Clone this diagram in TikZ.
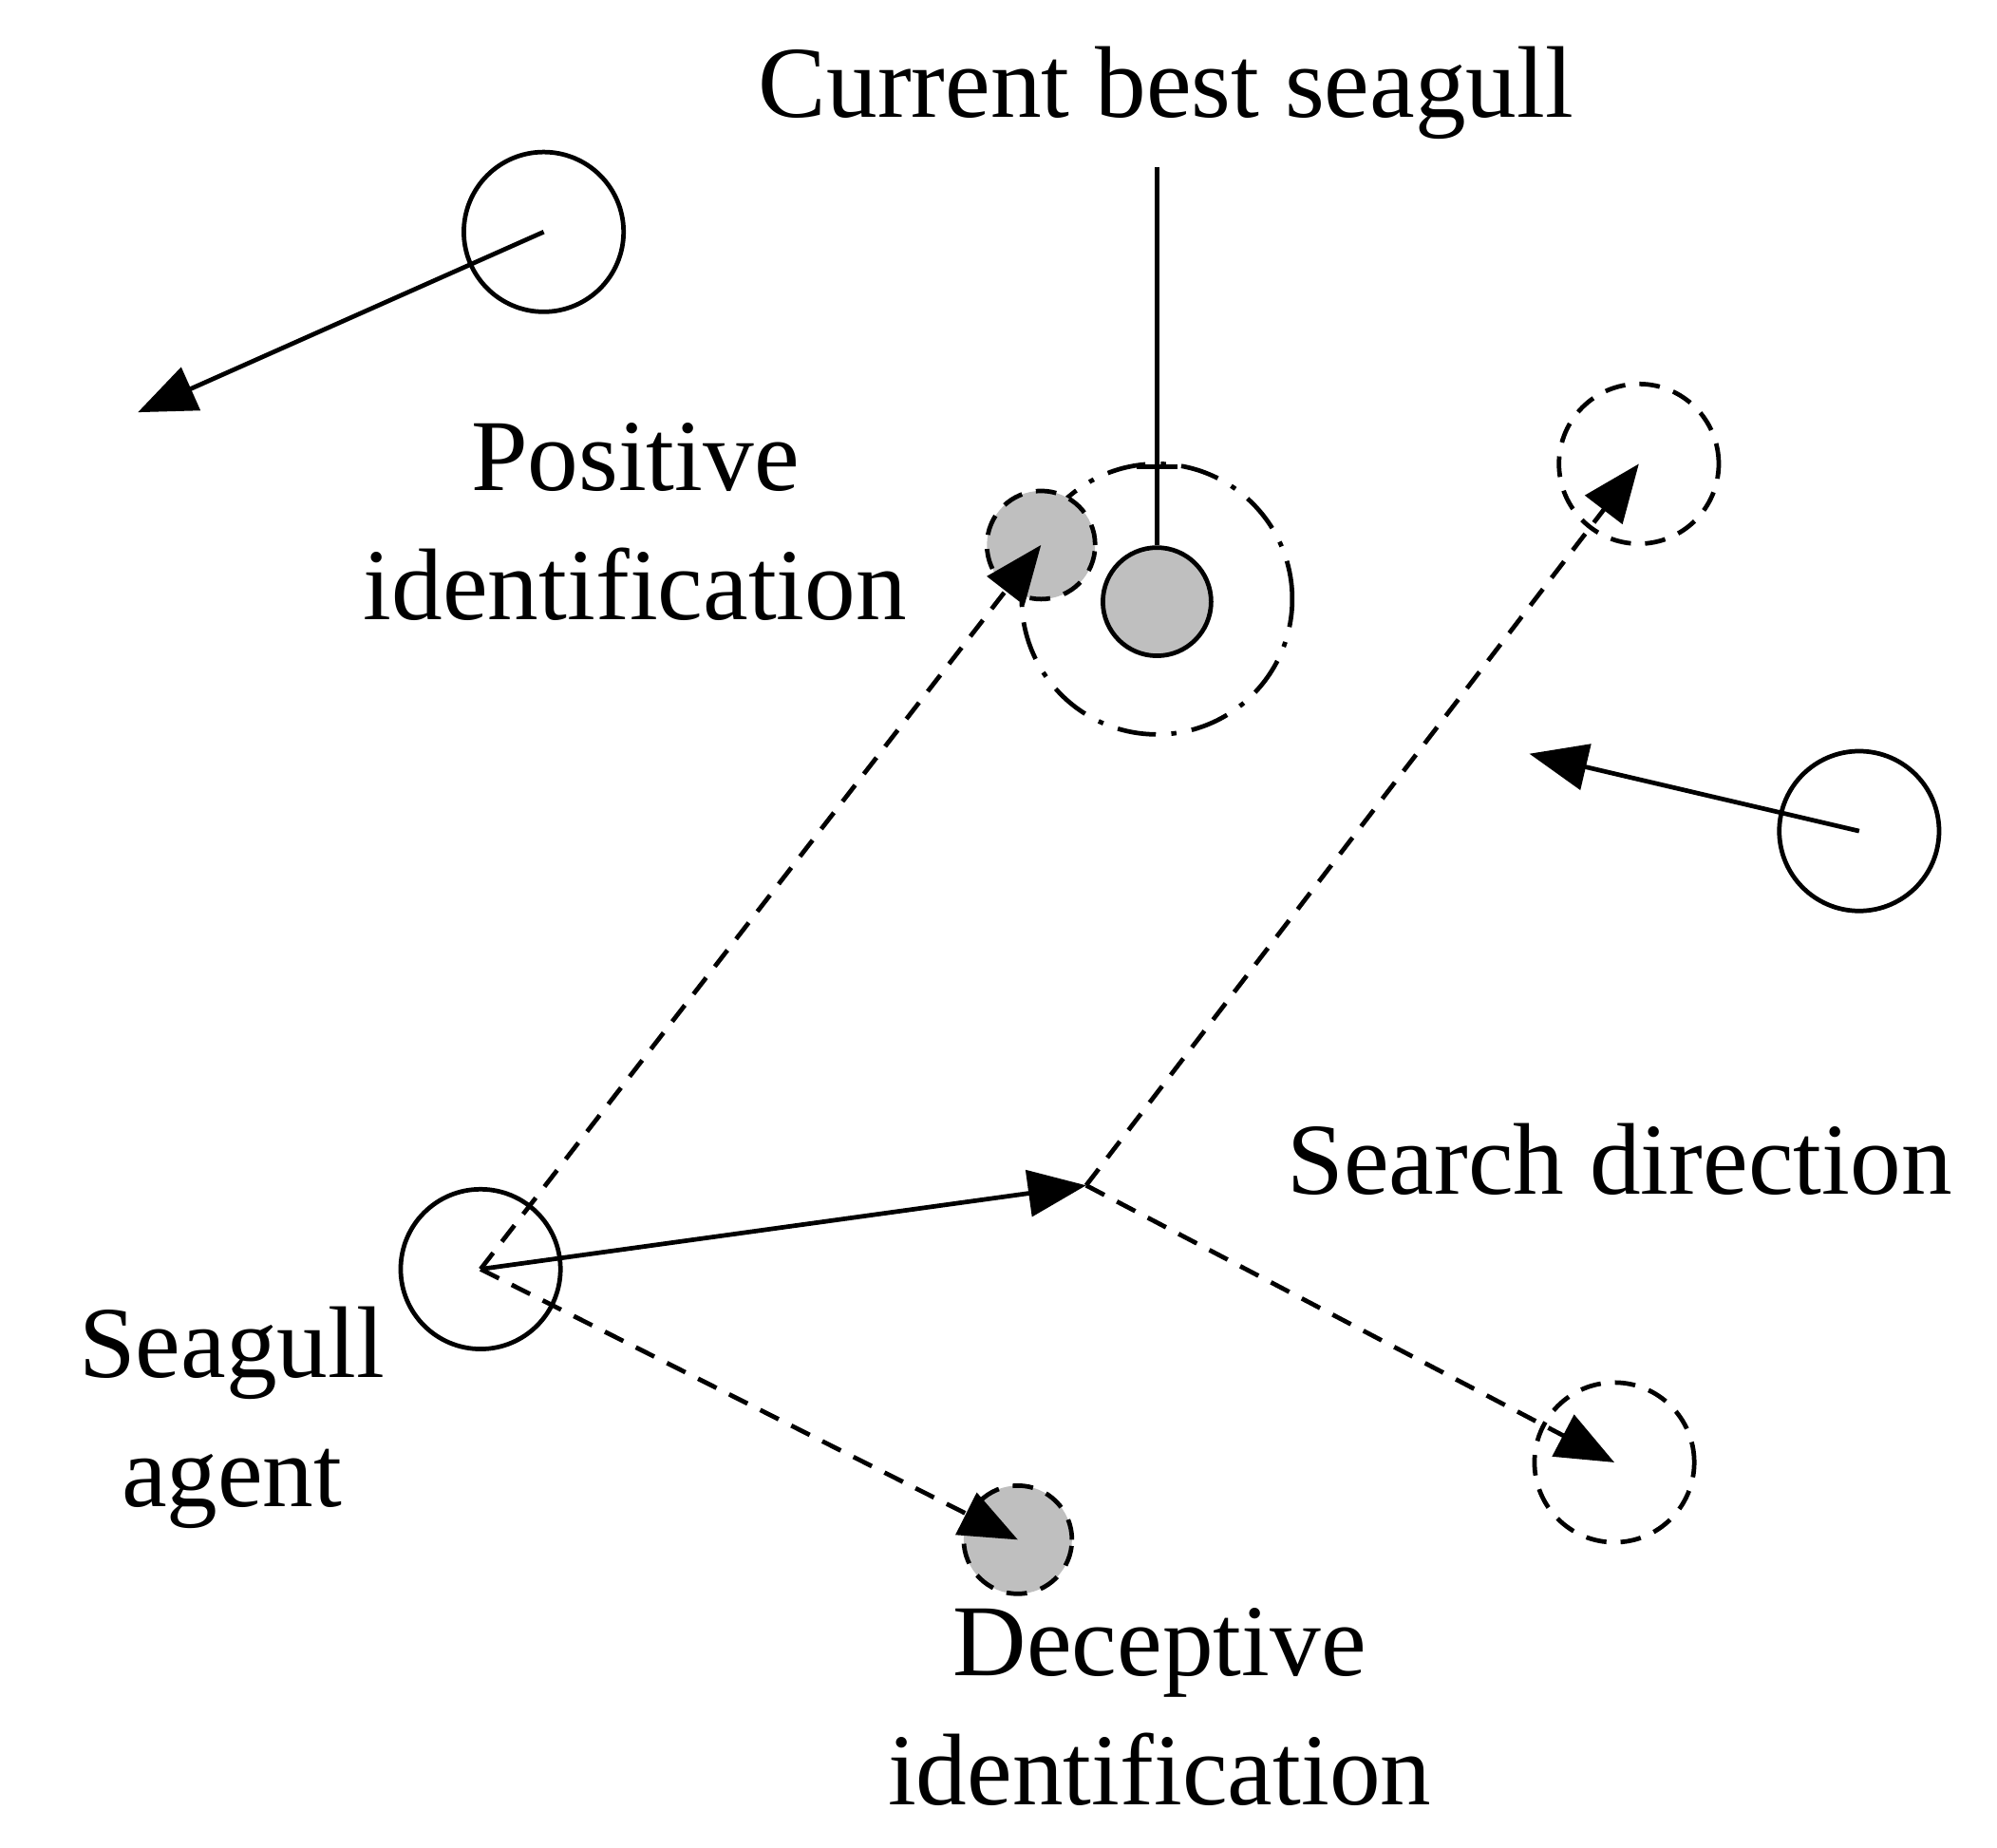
\documentclass[tikz,border=0pt]{standalone}
\usepackage{fontspec}
\setmainfont{Liberation Serif}
\usetikzlibrary{arrows.meta}
\begin{document}
\begin{tikzpicture}[x=0.1mm,y=-0.1mm,
  lw/.style={line width=0.35mm},
  ar/.style={lw,-{Triangle[length=4.5mm,width=3.6mm]}},
  dsh/.style={dash pattern=on 1.6mm off 1.1mm},
  big/.style={circle,draw,lw,minimum size=12.4mm,inner sep=0},
  sm/.style={circle,draw,lw,minimum size=8.4mm,inner sep=0,fill=gray!50},
  lab/.style={font=\fontsize{22.5}{28.5}\selectfont,align=center}]
\useasboundingbox (0,0) rectangle (1550,1434);
\node[lab] (t1) at (905,72) {Current best seagull};
\node[sm] (best) at (898,467) {};
\node[circle,draw,lw,minimum size=21mm,inner sep=0,dash pattern=on 3mm off 1.2mm on 0.4mm off 1.2mm] (ring) at (898,465) {};
\coordinate (lt) at (890,130);
\coordinate (tk1) at (873,362); \coordinate (tk2) at (907,362);
\draw[lw] (best.north |- lt) -- (best.north);
\draw[lw] (tk1 -| best.north) ++(-16,0) -- ++(32,0);
\node[sm,dsh] (pos) at (808,423) {};
\node[big] (a1) at (422,180) {};
\coordinate (a1e) at (107,320);
\draw[ar] (a1.center) -- (a1e);
\node[lab] (tp) at (493,405) {Positive\\identification};
\node[big,dsh] (ur) at (1272,360) {};
\node[big] (a2) at (1443,645) {};
\coordinate (a2e) at (1187,585);
\draw[ar] (a2.center) -- (a2e);
\node[lab] (ts) at (1257,900) {Search direction};
\node[big] (ag) at (373,985) {};
\coordinate (mid) at (843,920);
\draw[ar] (ag.center) -- (mid);
\draw[ar,dsh] (ag.center) -- (pos.center);
\node[sm,dsh] (dec) at (790,1195) {};
\draw[ar,dsh] (ag.center) -- (dec.center);
\draw[ar,dsh] (mid) -- (ur.center);
\node[big,dsh] (lr) at (1253,1135) {};
\draw[ar,dsh] (mid) -- (lr.center);
\node[lab] (ta) at (180,1100) {Seagull\\agent};
\node[lab] (td) at (900,1325) {Deceptive\\identification};
\end{tikzpicture}
\end{document}
